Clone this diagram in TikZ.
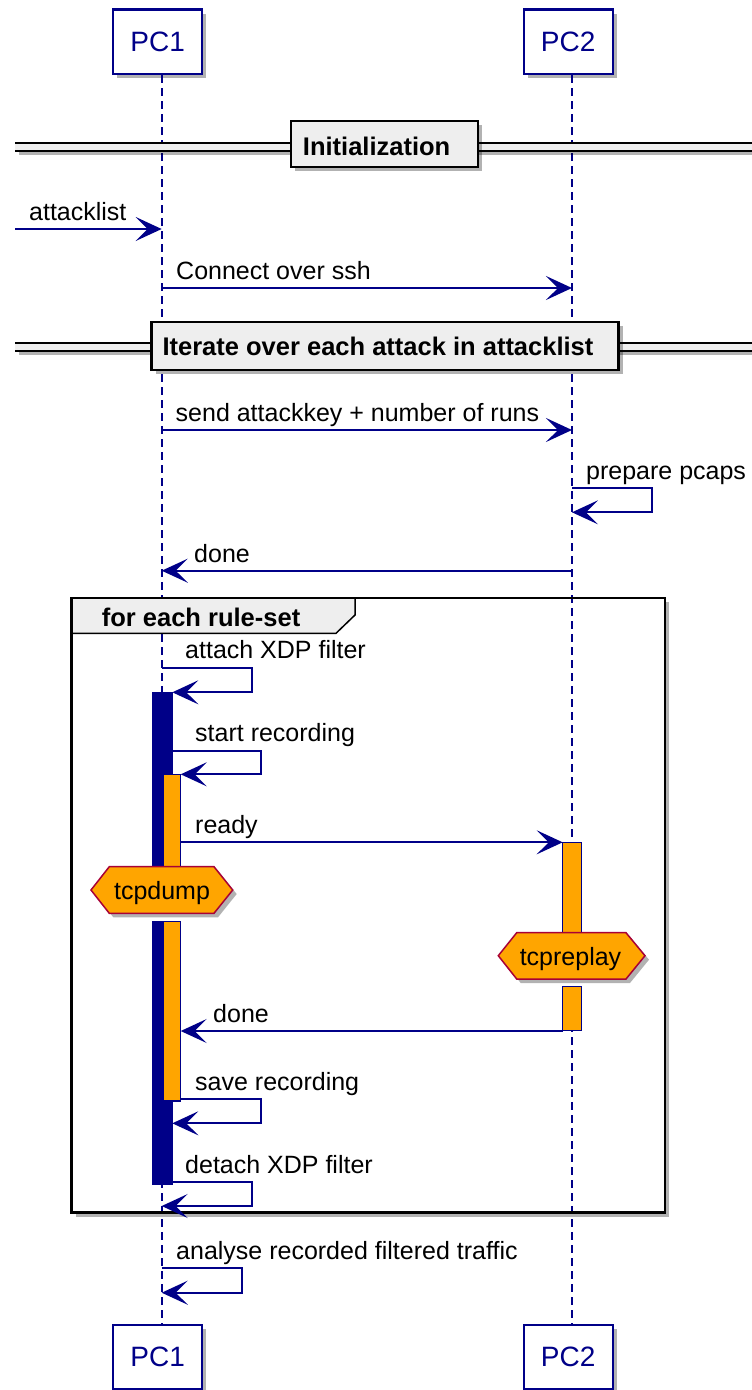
\documentclass[tikz,border=0pt]{standalone}
\usepackage{fontspec}
\setmainfont{Liberation Sans}
\usetikzlibrary{arrows.meta,shadows}
\definecolor{umlblue}{HTML}{000088}
\definecolor{umlgray}{HTML}{EEEEEE}
\definecolor{umlorange}{HTML}{FFA500}
\definecolor{umlred}{HTML}{A80036}

\tikzset{
  umlshadow/.style={drop shadow={shadow xshift=4pt,shadow yshift=-4pt,opacity=0.3,fill=black}},
  participant/.style={draw=umlblue,line width=2.2pt,fill=white,minimum width=89pt,
    minimum height=64.5pt,inner sep=0pt,font=\fontsize{28}{31}\selectfont,text=umlblue,umlshadow},
  lifeline/.style={draw=umlblue,line width=1.8pt,dash pattern=on 8pt off 5pt},
  msg/.style={draw=umlblue,line width=1.8pt,-{Stealth[length=26pt,width=24pt,inset=12pt]}},
  lbl/.style={anchor=base west,inner sep=0pt,font=\fontsize{25}{29}\selectfont},
  boldlbl/.style={anchor=base west,inner sep=0pt,font=\fontsize{25.5}{29}\selectfont\bfseries},
  divbox/.style={draw=black,line width=2.5pt,fill=umlgray,inner sep=0pt,umlshadow},
  divline/.style={draw=black,line width=2pt},
  loopframe/.style={draw=black,line width=2.5pt},
  looptab/.style={draw=black,line width=1.5pt,fill=umlgray},
  navybar/.style={draw=umlblue,line width=1pt,fill=umlblue},
  orangebar/.style={draw=umlblue,line width=1.2pt,fill=umlorange},
  hexnote/.style={draw=umlred,line width=1.5pt,fill=umlorange,umlshadow},
}

\begin{document}
\begin{tikzpicture}[x=1pt,y=-1pt]
\useasboundingbox (0,0) rectangle (752,1390);
\fill[white] (0,0) rectangle (752,1390);

% loop frame: background and shadow first
\fill[white,umlshadow] (71.7,598) rectangle (665,1212.7);

% participants
\node[participant] (pc1top) at (157.7,41.8) {PC1};
\node[participant] (pc2top) at (568.2,41.8) {PC2};
\node[participant] (pc1bot) at (157.7,1357) {PC1};
\node[participant] (pc2bot) at (568.2,1357) {PC2};

% lifelines
\draw[lifeline] ([xshift=4pt]pc1top.south) -- ([xshift=4pt]pc1bot.north);
\draw[lifeline] ([xshift=3.8pt]pc2top.south) -- ([xshift=3.8pt]pc2bot.north);

% divider: Initialization
\fill[umlgray,umlshadow] (15,143.3) rectangle (752,150.7);
\draw[divline] (15,143.3) -- (752,143.3);
\draw[divline] (15,150.7) -- (752,150.7);
\node[divbox,minimum width=187pt,minimum height=46pt] (initbox) at (384.5,144) {};
\node[boldlbl,anchor=west] (inittxt) at ([xshift=13pt,yshift=-2pt]initbox.west) {Initialization};

% divider: iteration
\fill[umlgray,umlshadow] (15,343.3) rectangle (752,350.7);
\draw[divline] (15,343.3) -- (752,343.3);
\draw[divline] (15,350.7) -- (752,350.7);
\node[divbox,minimum width=467pt,minimum height=48pt] (iterbox) at (385.1,346) {};
\node[boldlbl,anchor=west] (itertxt) at ([xshift=12pt]iterbox.west) {Iterate over each attack in attacklist};

% loop frame: tab and border
\draw[looptab] (71.7,598) -- (355,598) -- (355,615) -- (336,633.3) -- (71.7,633.3) -- cycle;
\node[boldlbl] (looplbl) at (101.7,626) {for each rule-set};
\draw[loopframe] (71.7,598) rectangle (665,1212.7);

% activation bars
\draw[navybar] (152.3,692.3) rectangle (172.3,866.7);
\draw[navybar] (152.3,921) rectangle (172.3,1184);
\draw[orangebar] (163.3,774.3) rectangle (180.7,866.7);
\draw[orangebar] (163.3,921) rectangle (180.7,1101);
\draw[orangebar] (562.7,842.7) rectangle (581.7,932.7);
\draw[orangebar] (562.7,986.7) rectangle (581.7,1030.7);

% breaks around the notes
\fill[white] (148,913.3) rectangle (186,920.5);
\fill[white] (558,979) rectangle (586,986.2);

% hexagon notes
\draw[hexnote] (91,890) -- (109.3,866.7) -- (214,866.7) -- (232.7,890) -- (214,913.3) -- (109.3,913.3) -- cycle;
\node[lbl,anchor=base] (tcpdump) at (162,899) {tcpdump};
\draw[hexnote] (498.3,955.7) -- (516.7,932.7) -- (626,932.7) -- (645,955.7) -- (626,979) -- (516.7,979) -- cycle;
\node[lbl,anchor=base] (tcpreplay) at (570.5,965) {tcpreplay};

% message end points
\coordinate (entry) at (15,229);
\coordinate (pc1a) at (161.7,229);
\coordinate (c1) at (161.7,288);   \coordinate (c2) at (572,288);
\coordinate (s1) at (161.7,430);   \coordinate (s2) at (572,430);
\coordinate (pp1) at (572,488.3);  \coordinate (pp2) at (572,512.3);
\coordinate (d1) at (572,570.7);   \coordinate (d2) at (161.7,570.7);
\coordinate (ax1) at (161.7,667.7); \coordinate (ax2) at (172.3,692.3);
\coordinate (sr1) at (172.3,750.7); \coordinate (sr2) at (180.7,774.3);
\coordinate (r1) at (180.7,842.3);  \coordinate (r2) at (562.7,842.3);
\coordinate (dn1) at (562.7,1031);  \coordinate (dn2) at (180.7,1031);
\coordinate (sv1) at (180.7,1099.3); \coordinate (sv2) at (172.3,1123.3);
\coordinate (dx1) at (172.3,1182.3); \coordinate (dx2) at (161.7,1206);
\coordinate (an1) at (161.7,1268.3); \coordinate (an2) at (161.7,1292.7);

% messages
\draw[msg] (entry) -- (pc1a);
\node[lbl] at (29,220) {attacklist};

\draw[msg] (c1) -- (c2);
\node[lbl] at (176,279.5) {Connect over ssh};

\draw[msg] (s1) -- (s2);
\node[lbl] at (175.5,421.5) {send attackkey + number of runs};

\draw[msg] (pp1) -- (652,488.3) -- (652,512.3) -- (pp2);
\node[lbl] at (586,479) {prepare pcaps};

\draw[msg] (d1) -- (d2);
\node[lbl] at (194,562) {done};

\draw[msg] (ax1) -- (251.7,667.7) -- (251.7,692.3) -- (ax2);
\node[lbl] at (185,658.3) {attach XDP filter};

\draw[msg] (sr1) -- (261,750.7) -- (261,774.3) -- (sr2);
\node[lbl] at (195,741.3) {start recording};

\draw[msg] (r1) -- (r2);
\node[lbl] at (195,833.3) {ready};

\draw[msg] (dn1) -- (dn2);
\node[lbl] at (213,1022) {done};

\draw[msg] (sv1) -- (261,1099.3) -- (261,1123.3) -- (sv2);
\node[lbl] at (195,1090) {save recording};

\draw[msg] (dx1) -- (251.7,1182.3) -- (251.7,1206) -- (dx2);
\node[lbl] at (185,1173) {detach XDP filter};

\draw[msg] (an1) -- (241.7,1268.3) -- (241.7,1292.7) -- (an2);
\node[lbl] at (176,1259) {analyse recorded filtered traffic};
\end{tikzpicture}
\end{document}
